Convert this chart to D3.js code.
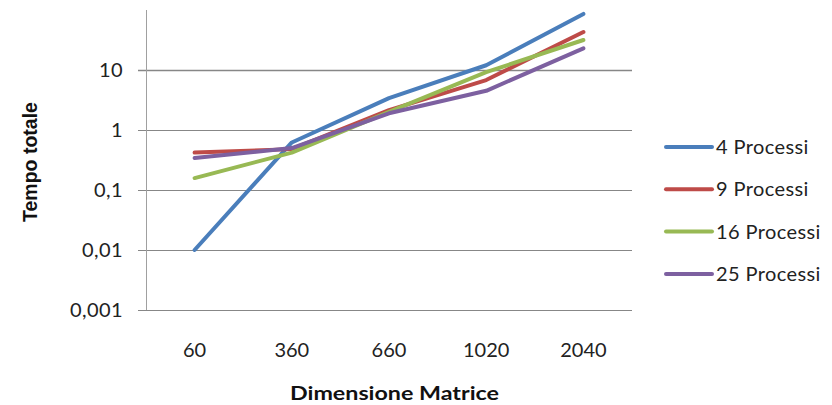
<!DOCTYPE html>
<html><head><meta charset="utf-8">
<script src="https://cdn.jsdelivr.net/npm/d3@7"></script>
<style>body{margin:0;background:#fff}svg{display:block}text{font-family:Lato,"Open Sans",sans-serif}</style>
</head><body><svg id="c" width="832" height="405"></svg>
<script>
const categories = ["60","360","660","1020","2040"];
const seriesNames = ["4 Processi","9 Processi","16 Processi","25 Processi"];
const p4  = [0.01, 0.62, 3.4, 12, 86];
const p9  = [0.42, 0.48, 2.15, 6.8, 43];
const p16 = [0.158, 0.42, 2.0, 9.2, 31.6];
const p25 = [0.34, 0.5, 1.9, 4.5, 23];
const yTicks = [0.001, 0.01, 0.1, 1, 10];
const yTickLabels = ["0,001","0,01","0,1","1","10"];
const colors = ["#4a7ebb","#be4b48","#98b954","#7d60a0"];
const allSeries = [p4,p9,p16,p25];

const svg = d3.select("#c");
const L=146, R=632, T=10, B=310;
const x = d3.scaleBand().domain(categories).range([L,R]);
const y = d3.scaleLog().domain([0.001,100]).range([B,T]);

// gridlines
svg.append("g").selectAll("line").data(yTicks).join("line")
  .attr("x1",L-8).attr("x2",R)
  .attr("y1",d=>Math.round(y(d))+0.5).attr("y2",d=>Math.round(y(d))+0.5)
  .attr("stroke","#878787").attr("stroke-width",d=>d===10?1.6:1);
// vertical axis
svg.append("line").attr("x1",L+0.5).attr("x2",L+0.5).attr("y1",T).attr("y2",B)
  .attr("stroke","#a0a0a0");
// y labels
svg.append("g").selectAll("text").data(yTicks).join("text")
  .attr("x",123).attr("y",d=>y(d)+7).attr("text-anchor","end")
  .attr("font-size",20).attr("letter-spacing",0.4).attr("fill","#222").text((d,i)=>yTickLabels[i]);
// x labels
svg.append("g").selectAll("text").data(categories).join("text")
  .attr("x",d=>x(d)+x.bandwidth()/2).attr("y",357).attr("text-anchor","middle")
  .attr("font-size",20).attr("fill","#222").text(d=>d);
// axis titles
svg.append("text").attr("x",290).attr("y",400)
  .attr("font-size",19).attr("font-weight","bold").attr("fill","#111")
  .attr("textLength",209).attr("lengthAdjust","spacingAndGlyphs").text("Dimensione Matrice");
svg.append("text").attr("transform","translate(37,162) rotate(-90)").attr("text-anchor","middle")
  .style("font-family","'Liberation Sans',Arial,sans-serif")
  .attr("font-size",19.5).attr("font-weight","bold").attr("fill","#111").text("Tempo totale");

// lines
const line = d3.line().x((d,i)=>x(categories[i])+x.bandwidth()/2).y(d=>y(d));
svg.append("g").selectAll("path").data(allSeries).join("path")
  .attr("d",line).attr("fill","none").attr("stroke",(d,i)=>colors[i])
  .attr("stroke-width",4).attr("stroke-linecap","round").attr("stroke-linejoin","round");

// legend
const lg = svg.append("g").selectAll("g").data(seriesNames).join("g")
  .attr("transform",(d,i)=>`translate(0,${147+i*42.3})`);
lg.append("line").attr("x1",666).attr("x2",712).attr("y1",0).attr("y2",0)
  .attr("stroke",(d,i)=>colors[i]).attr("stroke-width",4).attr("stroke-linecap","round");
lg.append("text").attr("x",716).attr("y",7).attr("font-size",20).attr("letter-spacing",0.4)
  .attr("fill","#222").text(d=>d);
</script></body></html>
